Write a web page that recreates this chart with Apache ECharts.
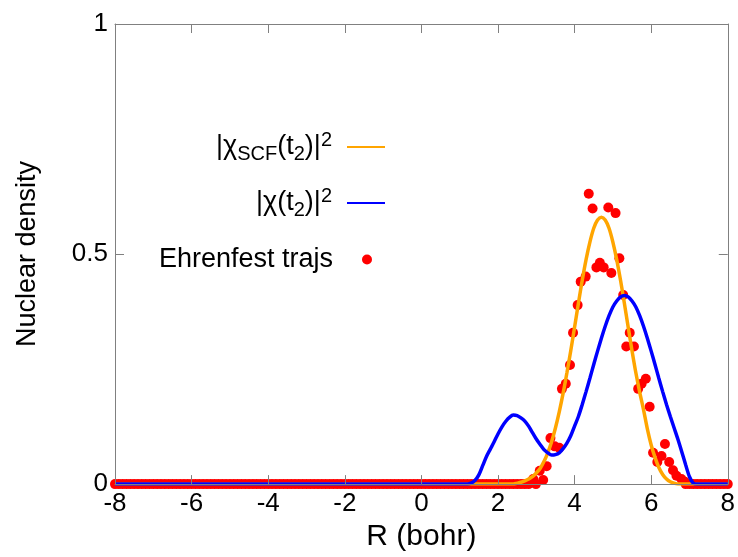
<!DOCTYPE html>
<html>
<head>
<meta charset="utf-8">
<script src="https://cdn.jsdelivr.net/npm/echarts@6/dist/echarts.min.js"></script>
<style>
  html, body { margin: 0; padding: 0; background: #fff; }
  #chart { width: 738px; height: 557px; }
</style>
</head>
<body>
<div id="chart"></div>
<script>
// R grid for the two densities (bohr)
const gridR = [-8, 1.0, 1.1, 1.2,
  1.3, 1.4, 1.5, 1.6, 1.7, 1.8, 1.9, 2.0, 2.1, 2.2, 2.3, 2.4, 2.5, 2.6, 2.7, 2.8, 2.9, 3.0,
  3.1, 3.2, 3.3, 3.4, 3.5, 3.6, 3.7, 3.8, 3.9, 4.0, 4.1, 4.2, 4.3, 4.4, 4.5, 4.6, 4.7, 4.8,
  4.9, 5.0, 5.1, 5.2, 5.3, 5.4, 5.5, 5.6, 5.7, 5.8, 5.9, 6.0, 6.1, 6.2, 6.3, 6.4, 6.5, 6.6,
  6.7, 6.8, 6.9, 7.0, 7.1,
  7.2, 7.3, 8];

// |chi_SCF(t2)|^2
const scfDensity = [0, 0, 0, 0,
  0, 0, 0, 0, 0, 0, 0, 0, 0, 0, 0, 0, 0.002, 0.004, 0.007, 0.011, 0.016, 0.024,
  0.034, 0.049, 0.068, 0.092, 0.122, 0.157, 0.197, 0.242, 0.290, 0.341, 0.393, 0.443, 0.488, 0.526, 0.556, 0.574, 0.580, 0.574,
  0.556, 0.526, 0.488, 0.443, 0.393, 0.341, 0.290, 0.242, 0.200, 0.162, 0.120, 0.085, 0.058, 0.036, 0.021, 0.011, 0.005, 0.002,
  0, 0, 0, 0, 0,
  0, 0, 0];

// |chi(t2)|^2
const exactDensity = [0, 0, 0, 0,
  0.002, 0.008, 0.020, 0.040, 0.060, 0.076, 0.092, 0.109, 0.124, 0.136, 0.145, 0.150, 0.149, 0.144, 0.137, 0.126, 0.112, 0.098,
  0.086, 0.075, 0.068, 0.063, 0.064, 0.068, 0.077, 0.089, 0.105, 0.126, 0.147, 0.173, 0.201, 0.230, 0.260, 0.289, 0.317, 0.343,
  0.366, 0.385, 0.398, 0.407, 0.410, 0.407, 0.398, 0.385, 0.366, 0.343, 0.317, 0.289, 0.260, 0.230, 0.201, 0.173, 0.147, 0.122,
  0.097, 0.070, 0.042, 0.016, 0.002,
  0, 0, 0];

// Ehrenfest trajectories sitting at zero density
const zeroTrajR = [
  -8.0, -7.9, -7.8, -7.7, -7.6, -7.5, -7.4, -7.3, -7.2, -7.1, -7.0, -6.9, -6.8, -6.7, -6.6, -6.5,
  -6.4, -6.3, -6.2, -6.1, -6.0, -5.9, -5.8, -5.7, -5.6, -5.5, -5.4, -5.3, -5.2, -5.1, -5.0, -4.9,
  -4.8, -4.7, -4.6, -4.5, -4.4, -4.3, -4.2, -4.1, -4.0, -3.9, -3.8, -3.7, -3.6, -3.5, -3.4, -3.3,
  -3.2, -3.1, -3.0, -2.9, -2.8, -2.7, -2.6, -2.5, -2.4, -2.3, -2.2, -2.1, -2.0, -1.9, -1.8, -1.7,
  -1.6, -1.5, -1.4, -1.3, -1.2, -1.1, -1.0, -0.9, -0.8, -0.7, -0.6, -0.5, -0.4, -0.3, -0.2, -0.1,
  0.0, 0.1, 0.2, 0.3, 0.4, 0.5, 0.6, 0.7, 0.8, 0.9, 1.0, 1.1, 1.2, 1.3, 1.4, 1.5, 1.6, 1.7, 1.8,
  1.9, 2.0, 2.1, 2.2, 2.3, 2.4, 2.5, 2.6, 2.7, 2.8,
  6.9, 7.0, 7.1, 7.2, 7.3, 7.4, 7.5, 7.6, 7.7, 7.8, 7.9, 8.0];

// Ehrenfest trajectories in the wavepacket region
const peakTrajR = [2.92, 2.99, 3.09, 3.18, 3.27, 3.37, 3.48, 3.60, 3.67, 3.77, 3.88, 3.96, 4.08, 4.16,
  4.29, 4.37, 4.47, 4.57, 4.66, 4.76, 4.88, 4.96, 5.07, 5.17, 5.27, 5.35, 5.44, 5.55, 5.66, 5.75,
  5.86, 5.96, 6.05, 6.16, 6.27, 6.36, 6.47, 6.57, 6.66, 6.79, 6.88];
const peakTrajDensity = [0.011, 0.0, 0.029, 0.009, 0.039, 0.100, 0.082, 0.079, 0.207, 0.218, 0.259, 0.329, 0.389, 0.440,
  0.451, 0.631, 0.599, 0.471, 0.481, 0.471, 0.601, 0.459, 0.589, 0.491, 0.411, 0.299, 0.329, 0.299, 0.207, 0.218,
  0.229, 0.168, 0.068, 0.048, 0.061, 0.087, 0.048, 0.030, 0.018, 0.011, 0.005];

const FONT = "'Liberation Sans', Arial, Helvetica, sans-serif";
const GRAY = "#808080";

let chart = echarts.init(document.getElementById("chart"));

// legend text with sub/superscripts
const richText = {
  b: { fontSize: 27, fontFamily: FONT, color: "#000", lineHeight: 34 },
  s: { fontSize: 20, fontFamily: FONT, color: "#000", verticalAlign: "bottom" },
  p: { fontSize: 20, fontFamily: FONT, color: "#000", verticalAlign: "top" },
  g: { width: 10 },
  gg: { width: 24 },
};
const legendLabels = {
  scf: "{b||χ}{s|SCF}{b|(t}{s|2}{b|)|}{p|2}{g| }",
  exact: "{b||χ(t}{s|2}{b|)|}{p|2}{g| }",
  traj: "{b|Ehrenfest trajs}{gg| }",
};

function makeLegend(name, top, right, w, lineIcon) {
  return {
    data: [name],
    orient: "vertical",
    align: "right",
    right: right,
    top: top,
    padding: 0,
    itemWidth: w,
    itemHeight: 10,
    selectedMode: false,
    itemStyle: lineIcon ? { opacity: 0 } : { opacity: 1 },
    formatter: function (n) {
      return legendLabels[n];
    },
    textStyle: { rich: richText },
  };
}

function axisCommon() {
  return {
    type: "value",
    z: 5,
    axisLine: { show: true, onZero: false, lineStyle: { color: GRAY, width: 1 } },
    axisTick: { show: true, inside: true, length: 9, lineStyle: { color: GRAY } },
    splitLine: { show: false },
  };
}

let option = {
  animation: false,
  backgroundColor: "#fff",
  grid: { left: 115, right: 10, top: 24, bottom: 67 },
  legend: [
    makeLegend("scf", 130, 352, 38, true),
    makeLegend("exact", 186, 352, 38, true),
    makeLegend("traj", 246, 366, 10, false),
  ],
  xAxis: [
    Object.assign(axisCommon(), {
      position: "bottom",
      min: -8,
      max: 8,
      interval: 2,
      axisLabel: { color: "#000", fontSize: 26, fontFamily: FONT, margin: 7 },
      name: "R (bohr)",
      nameLocation: "middle",
      nameGap: 35,
      nameTextStyle: { color: "#000", fontSize: 30, fontFamily: FONT },
    }),
    Object.assign(axisCommon(), {
      position: "top",
      min: -8,
      max: 8,
      interval: 2,
      axisLabel: { show: false },
    }),
  ],
  yAxis: [
    Object.assign(axisCommon(), {
      position: "left",
      min: 0,
      max: 1,
      interval: 0.5,
      axisLabel: { color: "#000", fontSize: 26, fontFamily: FONT, margin: 7 },
      name: "Nuclear density",
      nameLocation: "middle",
      nameGap: 74,
      nameTextStyle: { color: "#000", fontSize: 27, fontFamily: FONT },
    }),
    Object.assign(axisCommon(), {
      position: "right",
      min: 0,
      max: 1,
      interval: 0.5,
      axisLabel: { show: false },
    }),
  ],
  series: [
    {
      name: "scf",
      type: "line",
      symbol: "none",
      smooth: 0.3,
      color: "#ffa500",
      lineStyle: { width: 3.5, color: "#ffa500" },
      data: gridR.map((r, i) => [r, scfDensity[i]]),
    },
    {
      name: "exact",
      type: "line",
      symbol: "none",
      smooth: 0.3,
      color: "#0000ff",
      lineStyle: { width: 3.5, color: "#0000ff" },
      data: gridR.map((r, i) => [r, exactDensity[i]]),
    },
    {
      name: "traj",
      type: "scatter",
      symbol: "circle",
      symbolSize: 10,
      clip: false,
      itemStyle: { color: "#ff0000", opacity: 1 },
      data: zeroTrajR.map((r) => [r, 0]).concat(peakTrajR.map((r, i) => [r, peakTrajDensity[i]])),
    },
  ],
};

chart.setOption(option);
</script>
</body>
</html>
